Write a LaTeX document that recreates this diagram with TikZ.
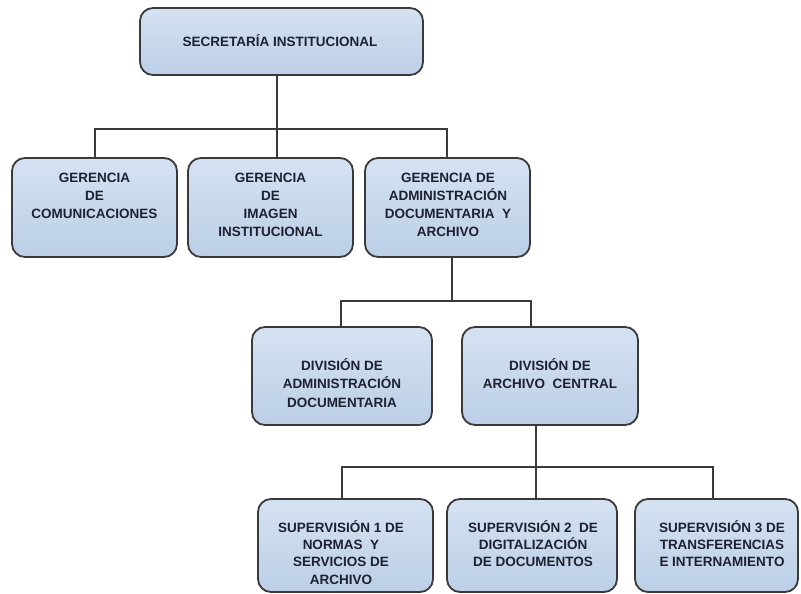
\documentclass[tikz,border=0pt]{standalone}
\usepackage{fontspec}
\setmainfont{Liberation Sans}
\definecolor{boxtop}{HTML}{D5E2F2}
\definecolor{boxbot}{HTML}{BCCFE7}
\definecolor{edgec}{HTML}{3A3A3C}
\definecolor{txtc}{HTML}{1E2130}
\begin{document}
\begin{tikzpicture}[x=1pt,y=-1pt,
  box/.style={draw=edgec, line width=1.8pt, rounded corners=13pt, top color=boxtop, bottom color=boxbot, inner sep=0pt, outer sep=0pt},
  txt/.style={text=txtc, align=center, inner sep=0pt, anchor=north},
  lvA/.style={font=\fontsize{13.5}{18}\selectfont\bfseries},
  lvB/.style={font=\fontsize{13.5}{18.5}\selectfont\bfseries},
  lvC/.style={font=\fontsize{13.5}{17.3}\selectfont\bfseries},
  link/.style={draw=edgec, line width=1.5pt}]
\clip (0,0) rectangle (801,594);
\fill[white] (0,0) rectangle (801,594);
% boxes
\node[box, minimum width=283pt, minimum height=67pt] (top) at (281.5,41.5) {};
\node[box, minimum width=165pt, minimum height=99pt] (b1) at (94.5,207.5) {};
\node[box, minimum width=165pt, minimum height=99pt] (b2) at (270.5,207.5) {};
\node[box, minimum width=165pt, minimum height=99pt] (b3) at (447.5,207.5) {};
\node[box, minimum width=180pt, minimum height=98pt] (c1) at (342,376) {};
\node[box, minimum width=176pt, minimum height=98pt] (c2) at (550,376) {};
\node[box, minimum width=175pt, minimum height=93pt] (d1) at (345.5,545.5) {};
\node[box, minimum width=170pt, minimum height=93pt] (d2) at (532,545.5) {};
\node[box, minimum width=163pt, minimum height=93pt] (d3) at (716.5,545.5) {};
% texts
\node[txt, lvA, anchor=base] (ttop) at (280,47) {SECRETARÍA INSTITUCIONAL};
\node[txt, lvA] (tb1) at (94.5,168) {\rule{0pt}{14pt}GERENCIA\\DE\\COMUNICACIONES};
\node[txt, lvA] (tb2) at (270.5,168) {\rule{0pt}{14pt}GERENCIA\\DE\\IMAGEN\\INSTITUCIONAL};
\node[txt, lvA] (tb3) at (448,168) {\rule{0pt}{14pt}GERENCIA DE\\ADMINISTRACIÓN\\DOCUMENTARIA\ \ Y\\ARCHIVO};
\node[txt, lvB] (tc1) at (342,356) {\rule{0pt}{14pt}DIVISIÓN DE\\ADMINISTRACIÓN\\DOCUMENTARIA};
\node[txt, lvB] (tc2) at (550,356) {\rule{0pt}{14pt}DIVISIÓN DE\\ARCHIVO\ \ CENTRAL};
\node[txt, lvC] (td1) at (341,518) {\rule{0pt}{14pt}SUPERVISIÓN 1 DE\\NORMAS\ \ Y\\SERVICIOS DE\\ARCHIVO};
\node[txt, lvC] (td2) at (533,518) {\rule{0pt}{14pt}SUPERVISIÓN 2\ \ DE\\DIGITALIZACIÓN\\DE DOCUMENTOS};
\node[txt, lvC] (td3) at (722,518) {\rule{0pt}{14pt}SUPERVISIÓN 3 DE\\TRANSFERENCIAS\\E INTERNAMIENTO};
% connectors level 1
\coordinate (j0) at (277,129);
\coordinate (k1) at (95,129);
\coordinate (k3) at (447,129);
\draw[link] (top.south -| j0) -- (b2.north -| j0);
\draw[link] (k1 |- b1.north) -- (k1) -- (k3) -- (k3 |- b3.north);
% connectors level 2
\coordinate (m0) at (452,301);
\coordinate (m1) at (341,301);
\coordinate (m2) at (531,301);
\draw[link] (b3.south -| m0) -- (m0);
\draw[link] (m1 |- c1.north) -- (m1) -- (m2) -- (m2 |- c2.north);
% connectors level 3
\coordinate (n1) at (342,467);
\coordinate (n2) at (536,467);
\coordinate (n3) at (713,467);
\draw[link] (c2.south -| n2) -- (n2 |- d2.north);
\draw[link] (n1 |- d1.north) -- (n1) -- (n3) -- (n3 |- d3.north);
\end{tikzpicture}
\end{document}
